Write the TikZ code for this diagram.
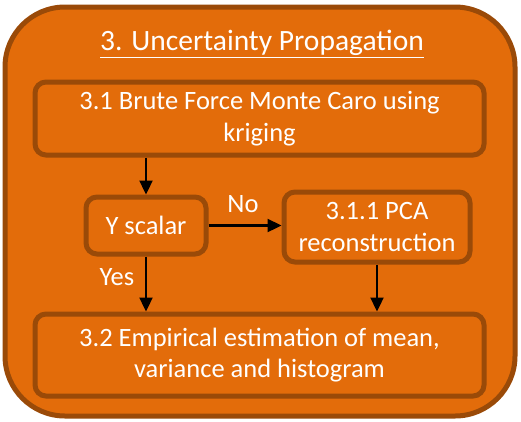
\documentclass[tikz,border=0pt]{standalone}
\usepackage{fontspec}
\setmainfont{Carlito}
\usetikzlibrary{arrows.meta}
\definecolor{orangefill}{HTML}{E36C0A}
\definecolor{orangeedge}{HTML}{9A4A08}
\tikzset{
  outerbox/.style={draw=orangeedge, fill=orangefill, line width=5pt, rounded corners=60pt},
  stepbox/.style={draw=orangeedge, fill=orangefill, line width=5pt, rounded corners=11pt,
    text=white, align=center, inner sep=0pt, font=\fontsize{26.5}{31.5}\selectfont},
  flow/.style={line width=2.3pt, -{Triangle[length=14pt,width=13pt]}},
  lab/.style={text=white, font=\fontsize{26.5}{31.5}\selectfont, inner sep=0pt}
}
\begin{document}
\begin{tikzpicture}[x=1pt,y=-1pt]
\useasboundingbox (0,0) rectangle (521,421);
\draw[outerbox] (5,7) rectangle (515,416);
\node[lab, font=\fontsize{29.5}{35}\selectfont] (title) at (262,44) {\underline{3. Uncertainty Propagation}};
\node[stepbox, minimum width=449pt, minimum height=73pt] (b1) at (259.5,118.5) {3.1 Brute Force Monte Caro using\\kriging};
\node[stepbox, minimum width=120pt, minimum height=57pt] (ys) at (146,225.5) {Y scalar};
\node[stepbox, minimum width=186pt, minimum height=70pt] (pca) at (377,227) {3.1.1 PCA\\reconstruction};
\node[stepbox, minimum width=449pt, minimum height=82pt] (b2) at (259.5,355) {3.2 Empirical estimation of mean,\\variance and histogram};
\draw[flow] (ys.north |- b1.south) -- (ys.north);
\draw[flow] (ys.south) -- (ys.south |- b2.north);
\draw[flow] (ys.east) -- (ys.east -| pca.west);
\draw[flow] (pca.south) -- (pca.south |- b2.north);
\node[lab] (no) at (243,204) {No};
\node[lab] (yes) at (117,277) {Yes};
\end{tikzpicture}
\end{document}
